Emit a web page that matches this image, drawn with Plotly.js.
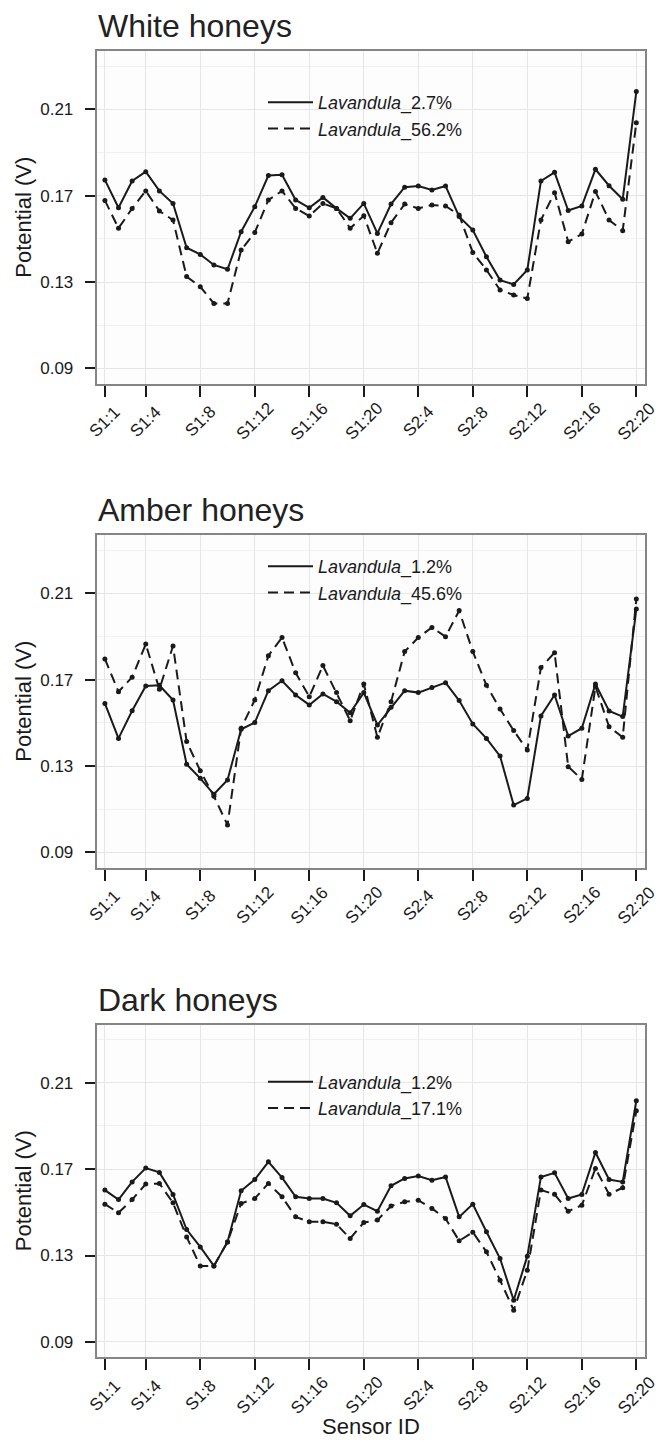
<!DOCTYPE html>
<html>
<head>
<meta charset="utf-8">
<script src="https://cdn.plot.ly/plotly-3.0.1.min.js"></script>
<style>html,body{margin:0;padding:0;background:#fff;}</style>
</head>
<body>
<div id="chart" style="width:661px;height:1453px;"></div>
<script>
// ---- data ----
const sensors = ['S1:1','S1:2','S1:3','S1:4','S1:5','S1:6','S1:7','S1:8','S1:9','S1:10',
  'S1:11','S1:12','S1:13','S1:14','S1:15','S1:16','S1:17','S1:18','S1:19','S1:20',
  'S2:1','S2:2','S2:3','S2:4','S2:5','S2:6','S2:7','S2:8','S2:9','S2:10',
  'S2:11','S2:12','S2:13','S2:14','S2:15','S2:16','S2:17','S2:18','S2:19','S2:20'];
const tickLabels = ['S1:1','S1:4','S1:8','S1:12','S1:16','S1:20','S2:4','S2:8','S2:12','S2:16','S2:20'];
const yTicks = [0.09, 0.13, 0.17, 0.21];
const panelTitles = ['White honeys', 'Amber honeys', 'Dark honeys'];
const seriesNames = [
  ['<i>Lavandula</i>_2.7%', '<i>Lavandula</i>_56.2%'],
  ['<i>Lavandula</i>_1.2%', '<i>Lavandula</i>_45.6%'],
  ['<i>Lavandula</i>_1.2%', '<i>Lavandula</i>_17.1%']
];
const white_lav2_7 = [0.1773,0.1644,0.1768,0.1811,0.1722,0.1664,0.1459,0.1428,0.1379,0.1359,
  0.1533,0.1649,0.1793,0.1797,0.1680,0.1644,0.1692,0.1641,0.1595,0.1664,
  0.1525,0.1661,0.1739,0.1745,0.1726,0.1745,0.1603,0.1541,0.1417,0.1309,
  0.1289,0.1356,0.1768,0.1808,0.1631,0.1652,0.1822,0.1746,0.1683,0.2182];
const white_lav56_2 = [0.1678,0.1549,0.1641,0.1722,0.1629,0.1587,0.1325,0.1278,0.1201,0.1201,
  0.1448,0.1529,0.1680,0.1722,0.1641,0.1606,0.1664,0.1641,0.1549,0.1607,
  0.1433,0.1575,0.1661,0.1641,0.1657,0.1652,0.1610,0.1437,0.1356,0.1263,
  0.1240,0.1224,0.1587,0.1714,0.1487,0.1522,0.1719,0.1587,0.1538,0.2038];
const amber_lav1_2 = [0.1590,0.1428,0.1556,0.1671,0.1674,0.1606,0.1308,0.1243,0.1169,0.1235,
  0.1470,0.1501,0.1649,0.1695,0.1629,0.1583,0.1634,0.1598,0.1547,0.1640,
  0.1490,0.1572,0.1649,0.1640,0.1664,0.1686,0.1603,0.1495,0.1428,0.1346,
  0.1119,0.1150,0.1532,0.1629,0.1439,0.1475,0.1680,0.1555,0.1529,0.2027];
const amber_lav45_6 = [0.1796,0.1644,0.1711,0.1865,0.1655,0.1856,0.1413,0.1278,0.1160,0.1027,
  0.1475,0.1606,0.1811,0.1895,0.1732,0.1621,0.1765,0.1640,0.1510,0.1680,
  0.1433,0.1598,0.1830,0.1895,0.1942,0.1899,0.2020,0.1830,0.1674,0.1564,
  0.1464,0.1374,0.1756,0.1825,0.1297,0.1238,0.1668,0.1482,0.1433,0.2074];
const dark_lav1_2 = [0.1603,0.1559,0.1641,0.1705,0.1685,0.1583,0.1420,0.1340,0.1252,0.1363,
  0.1600,0.1652,0.1734,0.1661,0.1572,0.1564,0.1564,0.1544,0.1484,0.1536,
  0.1505,0.1623,0.1657,0.1668,0.1649,0.1664,0.1479,0.1538,0.1410,0.1286,
  0.1093,0.1297,0.1664,0.1683,0.1564,0.1583,0.1777,0.1652,0.1641,0.2017];
const dark_lav17_1 = [0.1538,0.1498,0.1559,0.1631,0.1634,0.1544,0.1386,0.1251,0.1251,0.1363,
  0.1541,0.1564,0.1634,0.1572,0.1479,0.1456,0.1456,0.1445,0.1379,0.1453,
  0.1464,0.1529,0.1549,0.1556,0.1518,0.1471,0.1368,0.1408,0.1317,0.1186,
  0.1047,0.1232,0.1603,0.1584,0.1505,0.1533,0.1703,0.1584,0.1614,0.1970];
const panelData = [[white_lav2_7, white_lav56_2],[amber_lav1_2, amber_lav45_6],[dark_lav1_2, dark_lav17_1]];

// ---- layout helpers (pixels -> paper) ----
const W = 661, H = 1453;
const px = v => v / W;
const py = v => 1 - v / H;
const panelTop = [51, 535, 1024.5];
const legendTop = [33, 13, 39];
const panelH = 332.5;
const xLeft = 96.7, xRight = 644.5;
const INK = '#1a1a1a';
const FONT = 'Liberation Sans, Arial, Helvetica, sans-serif';
const dashes = ['solid', '10px,6px'];

const traces = [];
const layout = {
  width: W, height: H,
  margin: {l: 0, r: 0, t: 0, b: 0},
  paper_bgcolor: '#ffffff',
  plot_bgcolor: '#fdfdfd',
  font: {family: FONT, color: INK},
  showlegend: true,
  annotations: []
};

for (let p = 0; p < 3; p++) {
  const sfx = p === 0 ? '' : String(p + 1);
  const xa = 'x' + sfx, ya = 'y' + sfx;
  const leg = 'legend' + sfx;
  for (let s = 0; s < 2; s++) {
    traces.push({
      type: 'scatter', mode: 'lines+markers',
      x: sensors, y: panelData[p][s], xaxis: xa, yaxis: ya,
      line: {color: INK, width: 2, dash: dashes[s]},
      marker: {color: INK, size: 5},
      showlegend: false, hoverinfo: 'skip'
    });
    traces.push({
      type: 'scatter', mode: 'lines',
      x: [null], y: [null], xaxis: xa, yaxis: ya,
      name: seriesNames[p][s], legend: leg,
      line: {color: INK, width: 2, dash: dashes[s]},
      showlegend: true
    });
  }
  const top = panelTop[p], bot = top + panelH;
  layout['xaxis' + sfx] = {
    type: 'category', categoryorder: 'array', categoryarray: sensors,
    range: [-0.6, 39.6], domain: [px(xLeft), px(xRight)], anchor: ya,
    tickmode: 'array', tickvals: tickLabels, ticktext: tickLabels,
    showticklabels: false,
    ticks: 'outside', ticklen: 11, tickwidth: 2, tickcolor: INK,
    showgrid: true, gridcolor: '#e6e6e6', gridwidth: 1,
    showline: true, linecolor: '#858585', linewidth: 2, mirror: true,
    zeroline: false, fixedrange: true,
    title: {text: ''}
  };
  layout['yaxis' + sfx] = {
    range: [0.083, 0.237], domain: [py(bot), py(top)], anchor: xa,
    tickmode: 'array', tickvals: yTicks, tickformat: '.2f',
    tickfont: {size: 17, color: INK, family: FONT},
    ticks: 'outside', ticklen: 10, tickwidth: 2, tickcolor: INK,
    ticklabelstandoff: 8,
    showgrid: true, gridcolor: '#e6e6e6', gridwidth: 1,
    minor: {tickmode: 'array', tickvals: [0.11, 0.15, 0.19, 0.23], showgrid: true, gridcolor: '#f1f1f1', gridwidth: 1, ticks: ''},
    showline: true, linecolor: '#858585', linewidth: 2, mirror: true,
    zeroline: false, fixedrange: true,
    title: {text: 'Potential (V)', font: {size: 22, color: INK, family: FONT}, standoff: 3}
  };
  layout[leg] = {
    x: px(263), xanchor: 'left', y: py(top + legendTop[p]), yanchor: 'top',
    bgcolor: 'rgba(0,0,0,0)', borderwidth: 0,
    font: {size: 18, color: INK, family: FONT},
    itemwidth: 45, tracegroupgap: 0
  };
  layout.annotations.push({
    text: panelTitles[p], xref: 'paper', yref: 'paper',
    x: px(xLeft - 1), y: py(top - 5), xanchor: 'left', yanchor: 'bottom',
    showarrow: false, font: {size: 32, color: '#222222', family: FONT}
  });
  // rotated x tick labels, centred under each tick (as in the original)
  tickLabels.forEach(lbl => {
    layout.annotations.push({
      text: lbl, xref: xa, yref: 'paper', x: lbl, y: py(bot + 38),
      xanchor: 'center', yanchor: 'middle', textangle: -45,
      showarrow: false, font: {size: 17, color: INK, family: FONT}
    });
  });
}
layout.annotations.push({
  text: 'Sensor ID', xref: 'paper', yref: 'paper',
  x: px((xLeft + xRight) / 2), y: py(1426), xanchor: 'center', yanchor: 'middle',
  showarrow: false, font: {size: 22, color: INK, family: FONT}
});

Plotly.newPlot('chart', traces, layout, {displayModeBar: false, staticPlot: true});
</script>
</body>
</html>
